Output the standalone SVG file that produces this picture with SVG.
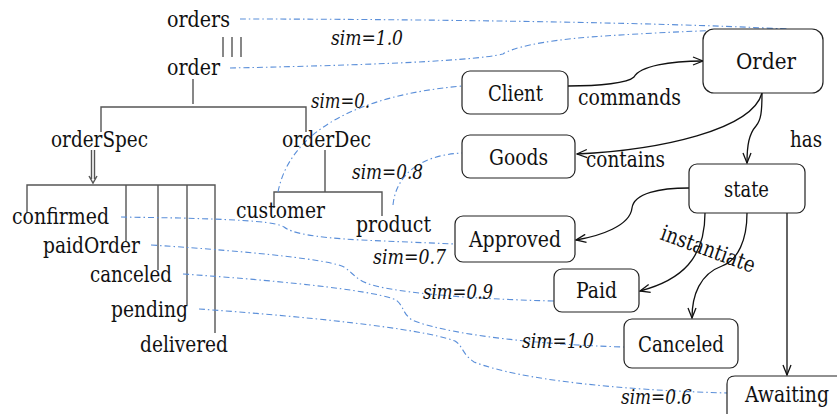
<svg xmlns="http://www.w3.org/2000/svg" width="837" height="414" viewBox="0 0 837 414" font-family="'DejaVu Serif', 'Liberation Serif', serif">
<style>
text{font-family:'DejaVu Serif','Liberation Serif',serif;font-size:22px;fill:#111}
.sim{font-style:italic;font-size:19.5px}
.box{fill:#fff;stroke:#222;stroke-width:1.2}
.tree{fill:none;stroke:#555;stroke-width:1.4}
.arr{fill:none;stroke:#111;stroke-width:1.3;marker-end:url(#ah)}
.sl{fill:none;stroke:#5b8fd9;stroke-width:1.1;stroke-dasharray:6 3 1.5 3}
</style>
<defs>
<marker id="ah" viewBox="0 0 12 10" refX="11" refY="5" markerWidth="12" markerHeight="10" markerUnits="userSpaceOnUse" orient="auto">
<path d="M1,1 L11,5 L1,9" fill="none" stroke="#111" stroke-width="1.3"/>
</marker>
</defs>
<rect width="837" height="414" fill="#fff"/>

<g id="connectors">
<g id="tree-lines">
<path class="tree" d="M223,37 V57 M232,37 V57 M241,37 V57"/>
<path class="tree" d="M193,79 V104 M101,132 V107 H306 V132"/>
<path class="tree" d="M91.5,150 V179 M94.5,150 V179 M89,176 L93,183 L97,176"/>
<path class="tree" d="M27,213 V185 H215 V333 M126,185 V242 M158,185 V270 M187,185 V305"/>
<path class="tree" d="M325,150 V192 M274,208 V192 H382 V216"/>
</g>
<g id="sim-lines">
<path class="sl" d="M240,19 C400,19 650,22 787,29"/>
<path class="sl" d="M230,68 C330,66 470,62 503,54 C512,48 540,41 590,37 C660,32 740,29 787,29"/>
<path class="sl" d="M278,192 C290,130 360,95 462,86"/>
<path class="sl" d="M393,205 C396,175 420,155 462,153"/>
<path class="sl" d="M121,217 L180,218 C250,220 276,222 284,227 C292,233 310,237 360,240 L455,244"/>
<path class="sl" d="M151,245 C260,252 330,260 344,267 C354,274 356,280 372,285 C400,293 470,299 554,301"/>
<path class="sl" d="M183,274 C300,282 380,292 396,300 C404,306 402,313 412,320 C440,332 520,344 624,347"/>
<path class="sl" d="M199,309 C300,316 420,328 455,341 C463,346 462,354 474,362 C520,380 620,390 727,393"/>
</g>
<g id="arrows">
<path class="arr" d="M568,86 C600,86 628,83 634,77 C640,66 670,61 703,61"/>
<path class="arr" d="M762,93 C752,130 660,150 577,154"/>
<path class="arr" d="M762,93 C762,112 761,120 756,126 C749,134 747,145 747,163"/>
<path class="arr" d="M689,188 C660,188 634,193 632,208 C630,226 600,236 576,240"/>
<path class="arr" d="M705,213 C705,258 682,280 640,291"/>
<path class="arr" d="M747,213 C747,240 738,260 722,266 C700,274 692,295 692,318"/>
<path class="arr" d="M787,213 L787,375"/>
</g>
</g>

<g id="edge-labels">
<text x="578" y="105" textLength="103" lengthAdjust="spacingAndGlyphs">commands</text>
<text x="586" y="167" textLength="79" lengthAdjust="spacingAndGlyphs">contains</text>
<text x="790" y="147" textLength="32" lengthAdjust="spacingAndGlyphs">has</text>
<text x="659" y="239" transform="rotate(20 659 239)" textLength="99" lengthAdjust="spacingAndGlyphs">instantiate</text>
<text class="sim" x="331" y="45" textLength="72" lengthAdjust="spacingAndGlyphs">sim=1.0</text>
<text class="sim" x="311" y="108" textLength="59" lengthAdjust="spacingAndGlyphs">sim=0.</text>
<text class="sim" x="352" y="179" textLength="71" lengthAdjust="spacingAndGlyphs">sim=0.8</text>
<text class="sim" x="373" y="264" textLength="73" lengthAdjust="spacingAndGlyphs">sim=0.7</text>
<text class="sim" x="423" y="299" textLength="70" lengthAdjust="spacingAndGlyphs">sim=0.9</text>
<text class="sim" x="522" y="348" textLength="72" lengthAdjust="spacingAndGlyphs">sim=1.0</text>
<text class="sim" x="621" y="404" textLength="71" lengthAdjust="spacingAndGlyphs">sim=0.6</text>
</g>

<g id="n-orders"><text x="167" y="27" textLength="63" lengthAdjust="spacingAndGlyphs">orders</text></g>
<g id="n-order"><text x="167" y="75" textLength="53" lengthAdjust="spacingAndGlyphs">order</text></g>
<g id="n-orderSpec"><text x="51" y="147" textLength="97" lengthAdjust="spacingAndGlyphs">orderSpec</text></g>
<g id="n-orderDec"><text x="282" y="147" textLength="89" lengthAdjust="spacingAndGlyphs">orderDec</text></g>
<g id="n-confirmed"><text x="12" y="224" textLength="97" lengthAdjust="spacingAndGlyphs">confirmed</text></g>
<g id="n-paidOrder"><text x="43" y="253" textLength="97" lengthAdjust="spacingAndGlyphs">paidOrder</text></g>
<g id="n-canceled"><text x="90" y="282" textLength="82" lengthAdjust="spacingAndGlyphs">canceled</text></g>
<g id="n-pending"><text x="111" y="317" textLength="77" lengthAdjust="spacingAndGlyphs">pending</text></g>
<g id="n-delivered"><text x="140" y="352" textLength="88" lengthAdjust="spacingAndGlyphs">delivered</text></g>
<g id="n-customer"><text x="236" y="218" textLength="89" lengthAdjust="spacingAndGlyphs">customer</text></g>
<g id="n-product"><text x="356" y="232" textLength="75" lengthAdjust="spacingAndGlyphs">product</text></g>

<g id="n-Order"><rect class="box" x="703" y="29" width="120" height="64" rx="11"/><text x="736" y="69" textLength="60" lengthAdjust="spacingAndGlyphs">Order</text></g>
<g id="n-Client"><rect class="box" x="462" y="71" width="106" height="43" rx="8"/><text x="488" y="101" textLength="55" lengthAdjust="spacingAndGlyphs">Client</text></g>
<g id="n-Goods"><rect class="box" x="462" y="135" width="113" height="43" rx="8"/><text x="489" y="165" textLength="59" lengthAdjust="spacingAndGlyphs">Goods</text></g>
<g id="n-state"><rect class="box" x="689" y="164" width="116" height="49" rx="8"/><text x="724" y="197" textLength="45" lengthAdjust="spacingAndGlyphs">state</text></g>
<g id="n-Approved"><rect class="box" x="455" y="216" width="120" height="46" rx="8"/><text x="469" y="247" textLength="92" lengthAdjust="spacingAndGlyphs">Approved</text></g>
<g id="n-Paid"><rect class="box" x="554" y="269" width="85" height="43" rx="8"/><text x="576" y="298" textLength="41" lengthAdjust="spacingAndGlyphs">Paid</text></g>
<g id="n-Canceled"><rect class="box" x="624" y="319" width="114" height="49" rx="8"/><text x="638" y="352" textLength="86" lengthAdjust="spacingAndGlyphs">Canceled</text></g>
<g id="n-Awaiting"><path d="M727,414 V384 Q727,376 735,376 H837" fill="none" stroke="#222" stroke-width="1.2"/><text x="745" y="402" font-size="21" textLength="84" lengthAdjust="spacingAndGlyphs">Awaiting</text></g>
</svg>
